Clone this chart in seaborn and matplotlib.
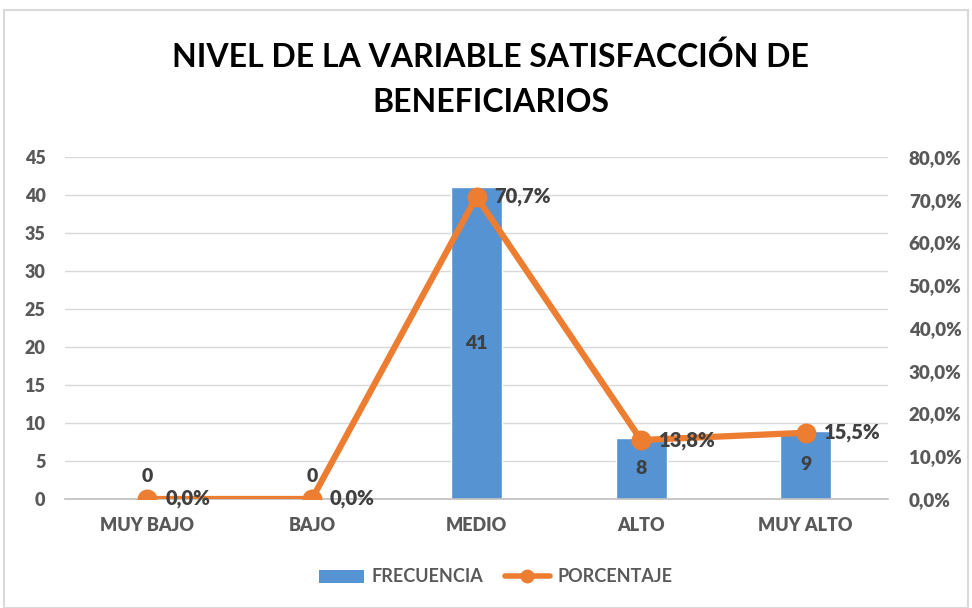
import matplotlib
matplotlib.use("Agg")
import matplotlib.pyplot as plt
import seaborn as sns
import pandas as pd
from matplotlib.patches import Rectangle
from matplotlib.lines import Line2D
from matplotlib.patches import Patch

categories = ["MUY BAJO", "BAJO", "MEDIO", "ALTO", "MUY ALTO"]
frecuencia = [0, 0, 41, 8, 9]
porcentaje = [0.0, 0.0, 70.7, 13.8, 15.5]
left_ticks = [0, 5, 10, 15, 20, 25, 30, 35, 40, 45]
right_ticks = [0, 10, 20, 30, 40, 50, 60, 70, 80]

sns.set_theme(style="white")
plt.rcParams["font.family"] = ["Lato", "DejaVu Sans"]

df = pd.DataFrame({"cat": categories, "frec": frecuencia, "pct": porcentaje})

fig = plt.figure(figsize=(9.72, 6.08), dpi=100)
fig.patches.append(Rectangle((4/972, 0.0), 964/972, 1 - 10/608, transform=fig.transFigure,
                             fill=False, edgecolor="#D9D9D9", linewidth=1.5))
ax = fig.add_axes([65/972, 1 - 499/608, (888 - 65)/972, (499 - 157)/608])

bar_color = "#5593D3"
line_color = "#ED7D31"
tick_color = "#595959"
label_color = "#404040"
W = "heavy"

sns.barplot(data=df, x="cat", y="frec", ax=ax, color=bar_color, width=0.31,
            saturation=1, zorder=2)
ax.set_xlim(-0.5, 4.5)
ax.set_ylim(0, 45)
ax.set_yticks(left_ticks)
ax.grid(axis="y", color="#D9D9D9", linewidth=1, zorder=0)
ax.set_axisbelow(True)
for s in ["top", "left", "right"]:
    ax.spines[s].set_visible(False)
ax.spines["bottom"].set_color("#BFBFBF")
ax.spines["bottom"].set_linewidth(1.2)
ax.set_xlabel("")
ax.set_ylabel("")
ax.tick_params(axis="y", length=0, pad=14, labelsize=13, labelcolor=tick_color)
ax.tick_params(axis="x", length=0, pad=13, labelsize=13, labelcolor=tick_color)
for t in ax.get_yticklabels() + ax.get_xticklabels():
    t.set_fontweight(W)

ax2 = ax.twinx()
sns.pointplot(data=df, x="cat", y="pct", ax=ax2, color=line_color, linewidth=4.5,
              markersize=11, zorder=5)
ax2.set_xlim(-0.5, 4.5)
ax2.set_ylim(0, 80)
ax2.set_yticks(right_ticks)
ax2.set_yticklabels([f"{v:.1f}%".replace(".", ",") for v in right_ticks])
for s in ["top", "left", "right", "bottom"]:
    ax2.spines[s].set_visible(False)
ax2.set_ylabel("")
ax2.grid(False)
ax2.tick_params(axis="y", length=0, pad=15, labelsize=13.5, labelcolor=tick_color)
for t in ax2.get_yticklabels():
    t.set_fontweight(W)

# bar labels
for i, v in enumerate(frecuencia):
    if v == 0:
        ax.text(i, 1.9, f"{v}", ha="center", va="bottom", fontsize=14,
                fontweight=W, color=label_color, zorder=6)
    else:
        ax.text(i, v / 2, f"{v}", ha="center", va="center", fontsize=14,
                fontweight=W, color=label_color, zorder=6)

# percentage labels
for i, p in enumerate(porcentaje):
    ax2.annotate(f"{p:.1f}%".replace(".", ","), (i, p), xytext=(13, 0),
                 textcoords="offset points", ha="left", va="center", fontsize=14.5,
                 fontweight=W, color=label_color, zorder=7)

fig.text(0.505, 1 - 57/608, "NIVEL DE LA VARIABLE SATISFACCIÓN DE", ha="center",
         va="center", fontsize=23, fontweight="bold", color="black")
fig.text(0.505, 1 - 103/608, "BENEFICIARIOS", ha="center", va="center",
         fontsize=23, fontweight="bold", color="black")

handles = [Patch(facecolor=bar_color, edgecolor="none"),
           Line2D([0], [0], color=line_color, linewidth=4, marker="o", markersize=9)]
leg = fig.legend(handles, ["FRECUENCIA", "PORCENTAJE"], loc="center",
                 bbox_to_anchor=(0.51, 1 - 577/608), ncol=2, frameon=False,
                 prop={"size": 13, "weight": "bold"}, handlelength=2.5,
                 columnspacing=1.2, handletextpad=0.4)
for t in leg.get_texts():
    t.set_color(tick_color)

fig.savefig("out.png", dpi=100)
